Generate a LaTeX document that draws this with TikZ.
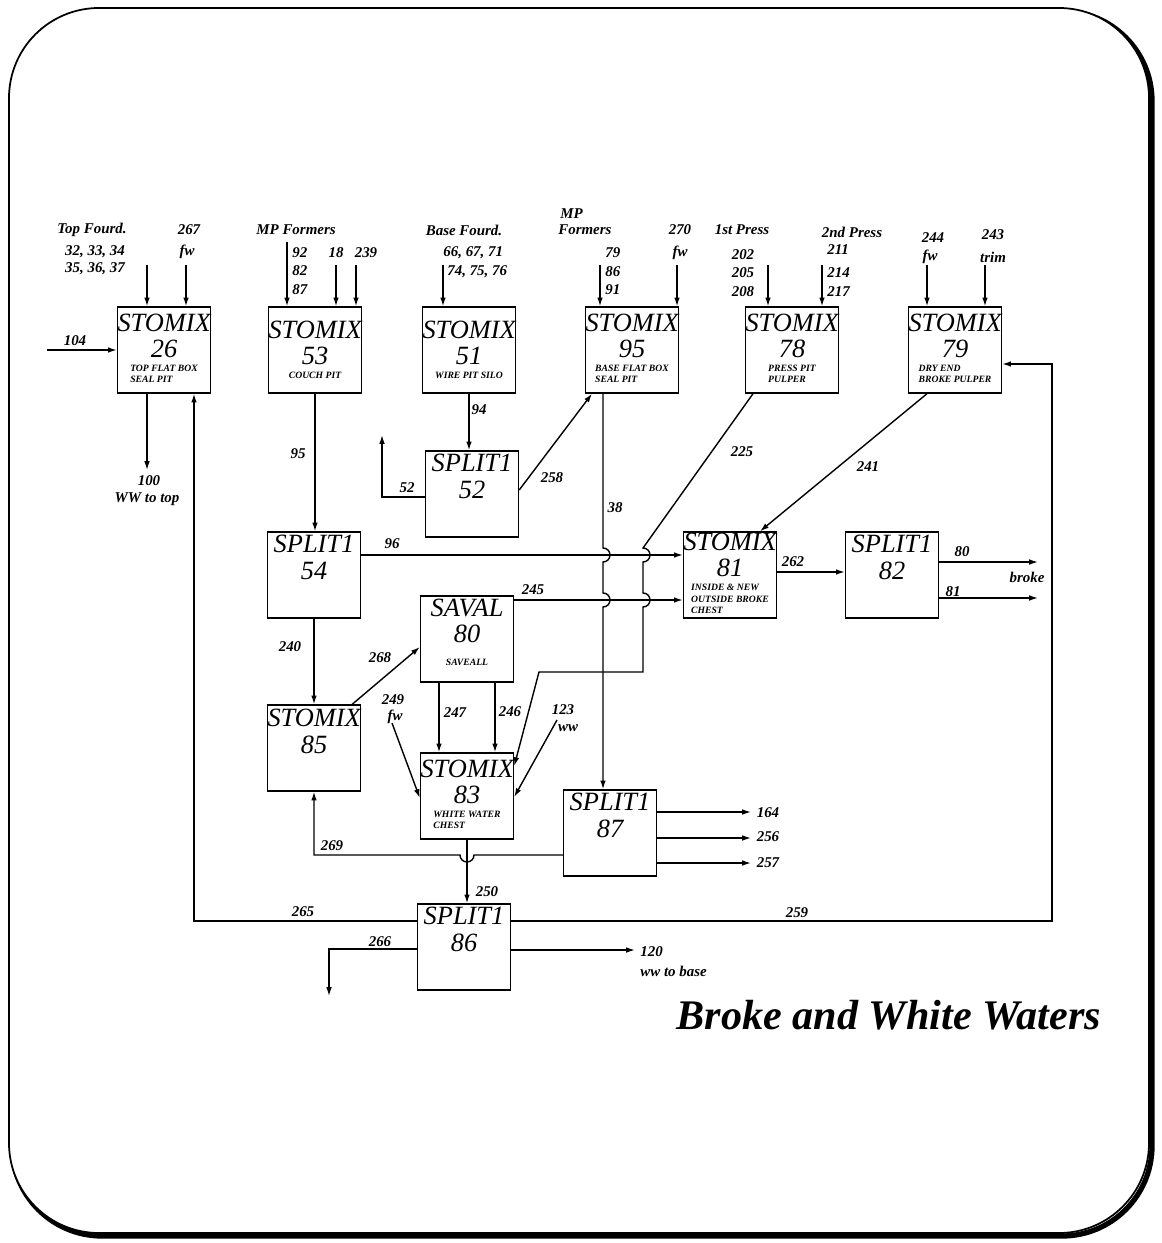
\documentclass[tikz,border=0pt]{standalone}
\usepackage{fontspec}
\setmainfont{Liberation Serif}
\usetikzlibrary{arrows.meta,calc}
\newcommand{\blkname}{\fontsize{15}{15}\selectfont\itshape}
\newcommand{\blkdesc}{\fontsize{5.5}{6.5}\selectfont\bfseries\itshape}
\newcommand{\lblfont}{\fontsize{8.5}{9}\selectfont\bfseries\itshape}

\begin{document}
\begin{tikzpicture}[x=0.02cm, y=-0.02cm, >={Latex[length=5pt,width=3.2pt]},
    blk/.style={draw, line width=0.8pt, text width=1.86cm, minimum height=1.72cm, inner sep=0pt, align=flush center, font=\blkname},
    flow/.style={line width=0.8pt},
    lbl/.style={font=\lblfont, inner sep=0pt},
    ]
    \useasboundingbox (0,0) rectangle (1161,1243);
    % frame with heavy bottom/right edge
    \draw[line width=3pt, rounded corners=1.8cm] (12,11) rectangle (1152,1236);
    \draw[fill=white, line width=1pt, rounded corners=1.8cm] (9,8) rectangle (1149,1233);

    % top row
    \node[blk] (st26) at (164,350) {STOMIX\\26\\[-7pt]{\blkdesc\begin{tabular}[t]{@{}l@{}}TOP FLAT BOX\\SEAL PIT\end{tabular}}};
    \node[blk] (st53) at (315,350) {STOMIX\\53\\[-7pt]{\blkdesc COUCH PIT}};
    \node[blk] (st51) at (469,350) {STOMIX\\51\\[-7pt]{\blkdesc WIRE PIT SILO}};
    \node[blk] (st95) at (632,350) {STOMIX\\95\\[-7pt]{\blkdesc\begin{tabular}[t]{@{}l@{}}BASE FLAT BOX\\SEAL PIT\end{tabular}}};
    \node[blk] (st78) at (792,350) {STOMIX\\78\\[-7pt]{\blkdesc\begin{tabular}[t]{@{}l@{}}PRESS PIT\\PULPER\end{tabular}}};
    \node[blk] (st79) at (955,350) {STOMIX\\79\\[-7pt]{\blkdesc\begin{tabular}[t]{@{}l@{}}DRY END\\BROKE PULPER\end{tabular}}};

    % middle and bottom
    \node[blk] (sp52) at (472,494) {SPLIT1\\52\\[5pt]\mbox{}};
    \node[blk] (sp54) at (314,575) {SPLIT1\\54\\[5pt]\mbox{}};
    \node[blk] (st81) at (730,575) {STOMIX\\81\\[-7pt]{\blkdesc\begin{tabular}[t]{@{}l@{}}INSIDE \& NEW\\OUTSIDE BROKE\\CHEST\end{tabular}}};
    \node[blk] (sp82) at (892,575) {SPLIT1\\82\\[5pt]\mbox{}};
    \node[blk] (sv80) at (467,639) {SAVAL\\80\\[-2pt]{\blkdesc SAVEALL}\\[-7.5pt]\mbox{}};
    \node[blk] (st85) at (314,748) {STOMIX\\85\\[4pt]\mbox{}};
    \node[blk] (st83) at (467,796) {STOMIX\\83\\[-7pt]{\blkdesc\begin{tabular}[t]{@{}l@{}}WHITE WATER\\CHEST\end{tabular}}};
    \node[blk] (sp87) at (610,833) {SPLIT1\\87\\[5pt]\mbox{}};
    \node[blk] (sp86) at (464,947) {SPLIT1\\86\\[5pt]\mbox{}};

    % free ends
    \coordinate (f26a) at (147,265);  \coordinate (f26b) at (186,265);
    \coordinate (f53a) at (287,242);  \coordinate (f53b) at (336,265);  \coordinate (f53c) at (356,265);
    \coordinate (f51a) at (443,265);
    \coordinate (f95a) at (600,265);  \coordinate (f95b) at (677,265);
    \coordinate (f78a) at (768,265);  \coordinate (f78b) at (822,265);
    \coordinate (f79a) at (927,265);  \coordinate (f79b) at (985,265);
    \coordinate (in104) at (47,350);
    \coordinate (out100) at (147,470);
    \coordinate (out52) at (382,435);
    \coordinate (out80) at (1038,562);
    \coordinate (out81) at (1038,598);
    \coordinate (in249) at (392,723);
    \coordinate (in123) at (557,720);
    \coordinate (o164) at (751,812);
    \coordinate (o256) at (751,838);
    \coordinate (o257) at (751,863);
    \coordinate (out266) at (329,996);
    \coordinate (out120) at (635,950);
    \coordinate (r259) at (1052,640);
    \coordinate (k225a) at (643,548);
    \coordinate (k225b) at (643,672);
    \coordinate (k225c) at (539,672);
    \coordinate (o38) at ($(st95.south)+(-29,0)$);
    \coordinate (s247) at ($(sv80.south)+(-28,0)$);
    \coordinate (s246) at ($(sv80.south)+(28,0)$);

    % feeds
    \foreach \c/\b in {f26a/st26, f26b/st26, f53a/st53, f53b/st53, f53c/st53, f51a/st51,
                       f95a/st95, f95b/st95, f78a/st78, f78b/st78, f79a/st79, f79b/st79}
        \draw[flow,->] (\c) -- (\c |- \b.north);
    \draw[flow,->] (in104) -- (st26.west);
    \draw[flow,->] (st26.south -| f26a) -- (out100);
    \draw[flow,->] (st53.south) -- (st53.south |- sp54.north);
    \draw[flow,->] (st51.south) -- (st51.south |- sp52.north);
    \draw[flow,->] ($(sp52.west)+(0,3)$) -| (out52);
    \draw[flow,->] ($(sp52.east)+(0,-4)$) -- ($(st95.south)+(-40,0)$);
    \draw[flow,->] (o38) -- (o38 |- k225a) arc[start angle=-90, end angle=90, radius=7] -- ++(0,31)
        arc[start angle=-90, end angle=90, radius=7] -- (o38 |- sp87.north);
    \draw[flow,->] ($(st78.south)+(-39,0)$) -- (k225a) arc[start angle=-90, end angle=90, radius=7] -- ++(0,31)
        arc[start angle=-90, end angle=90, radius=7] -- (k225b) -- (k225c) -- ($(st83.east)+(0,-30)$);
    \draw[flow,->] ($(st79.south)+(-28,0)$) -- ($(st81.north)+(30,0)$);
    \draw[flow,->] ($(sp54.east)+(0,-20)$) -- ($(st81.west)+(0,-20)$);
    \draw[flow,->] ($(sv80.east)+(0,-39)$) -- ($(st81.west)+(0,25)$);
    \draw[flow,->] ($(st81.east)+(0,-3)$) -- ($(sp82.west)+(0,-3)$);
    \draw[flow,->] ($(sp82.east)+(0,-13)$) -- (out80);
    \draw[flow,->] ($(sp82.east)+(0,23)$) -- (out81);
    \draw[flow,->] (sp54.south) -- (st85.north);
    \draw[flow,->] ($(st85.north east)+(-9,0)$) -- ($(sv80.west)+(0,8)$);
    \draw[flow,->] (s247) -- (s247 |- st83.north);
    \draw[flow,->] (s246) -- (s246 |- st83.north);
    \draw[flow,->] (in249) -- ($(st83.west)+(0,2)$);
    \draw[flow,->] (in123) -- ($(st83.east)+(0,1)$);
    \foreach \dy/\o in {-21/o164, 5/o256, 30/o257}
        \draw[flow,->] ($(sp87.east)+(0,\dy)$) -- (\o);
    \draw[flow,->] ($(sp87.west)+(0,22)$) -- ($(st83.south |- sp87.west)+(7,22)$)
        arc[start angle=0, end angle=180, radius=7] -| (st85.south);
    \draw[flow,->] (st83.south) -- (st83.south |- sp86.north);
    \draw[flow,->] ($(sp86.west)+(0,-26)$) -| ($(st26.south)+(30,0)$);
    \draw[flow,->] ($(sp86.east)+(0,-26)$) -| (r259) |- ($(st79.east)+(0,14)$);
    \draw[flow,->] ($(sp86.west)+(0,2)$) -| (out266);
    \draw[flow,->] ($(sp86.east)+(0,3)$) -- (out120);

    % stream labels
    \node[lbl] (lTop) at (92,230) {Top Fourd.};
    \node[lbl] (lTopa) at (95,252) {32, 33, 34};
    \node[lbl] (lTopb) at (95,269) {35, 36, 37};
    \node[lbl] (l267) at (189,230) {267};
    \node[lbl] (l267fw) at (187,252) {fw};
    \node[lbl] (l104) at (75,341) {104};
    \node[lbl] (l100) at (149,481) {100};
    \node[lbl] (l100t) at (147,499) {WW to top};
    \node[lbl] (lMP) at (296,230) {MP Formers};
    \node[lbl, anchor=west] (l92) at (292,253) {92};
    \node[lbl, anchor=west] (l82) at (292,271) {82};
    \node[lbl, anchor=west] (l87) at (292,290) {87};
    \node[lbl] (l18) at (336,253) {18};
    \node[lbl] (l239) at (366,253) {239};
    \node[lbl] (lBase) at (464,230) {Base Fourd.};
    \node[lbl, anchor=west] (lBasea) at (443,253) {66, 67, 71};
    \node[lbl, anchor=west] (lBaseb) at (447,272) {74, 75, 76};
    \node[lbl, anchor=west] (lMPb) at (560,214) {MP};
    \node[lbl, anchor=west] (lMPc) at (558,230) {Formers};
    \node[lbl, anchor=west] (l79) at (605,253) {79};
    \node[lbl, anchor=west] (l86) at (605,272) {86};
    \node[lbl, anchor=west] (l91) at (605,290) {91};
    \node[lbl] (l270) at (680,230) {270};
    \node[lbl] (l270fw) at (680,253) {fw};
    \node[lbl] (lP1) at (742,230) {1st Press};
    \node[lbl] (l202) at (743,255) {202};
    \node[lbl] (l205) at (743,273) {205};
    \node[lbl] (l208) at (743,292) {208};
    \node[lbl] (lP2) at (852,232) {2nd Press};
    \node[lbl, anchor=west] (l211) at (827,250) {211};
    \node[lbl, anchor=west] (l214) at (827,273) {214};
    \node[lbl, anchor=west] (l217) at (827,292) {217};
    \node[lbl] (l244) at (933,238) {244};
    \node[lbl] (l244fw) at (930,257) {fw};
    \node[lbl] (l243) at (993,235) {243};
    \node[lbl] (l243t) at (993,257) {trim};
    \node[lbl] (l94) at (479,410) {94};
    \node[lbl] (l52) at (407,488) {52};
    \node[lbl] (l258) at (552,478) {258};
    \node[lbl] (l95) at (298,454) {95};
    \node[lbl] (l38) at (615,508) {38};
    \node[lbl] (l225) at (742,452) {225};
    \node[lbl] (l241) at (868,467) {241};
    \node[lbl] (l96) at (392,544) {96};
    \node[lbl] (l245) at (533,590) {245};
    \node[lbl] (l262) at (793,562) {262};
    \node[lbl] (l80) at (962,552) {80};
    \node[lbl] (lbroke) at (1027,577) {broke};
    \node[lbl] (l81) at (953,592) {81};
    \node[lbl] (l240) at (290,647) {240};
    \node[lbl] (l268) at (380,658) {268};
    \node[lbl] (l249) at (393,700) {249};
    \node[lbl] (l249fw) at (395,717) {fw};
    \node[lbl] (l247) at (455,713) {247};
    \node[lbl] (l246) at (510,712) {246};
    \node[lbl] (l123) at (563,710) {123};
    \node[lbl] (l123ww) at (568,728) {ww};
    \node[lbl] (l164) at (768,813) {164};
    \node[lbl] (l256) at (768,837) {256};
    \node[lbl] (l257) at (768,863) {257};
    \node[lbl] (l269) at (332,846) {269};
    \node[lbl] (l250) at (487,892) {250};
    \node[lbl] (l265) at (303,912) {265};
    \node[lbl] (l259) at (797,913) {259};
    \node[lbl] (l266) at (380,942) {266};
    \node[lbl, anchor=west] (l120) at (640,952) {120};
    \node[lbl, anchor=west] (l120t) at (640,971) {ww to base};

    \node[font=\fontsize{24}{26}\selectfont\bfseries\itshape, inner sep=0pt] (title) at (889,1015) {Broke and White Waters};
\end{tikzpicture}
\end{document}
